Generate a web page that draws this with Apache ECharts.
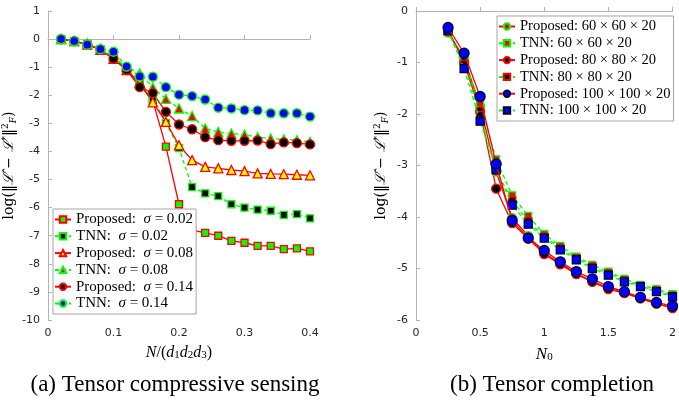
<!DOCTYPE html>
<html>
<head>
<meta charset="utf-8">
<script src="https://cdn.jsdelivr.net/npm/echarts@6/dist/echarts.min.js"></script>
<style>
  html, body { margin: 0; padding: 0; background: #fff; }
  #chart { width: 679px; height: 403px; }
</style>
</head>
<body>
<div id="chart"></div>
<script>
// (a) compressive sensing, x = N/(d1 d2 d3)
const ratioX = [0.02, 0.04, 0.06, 0.08, 0.10, 0.12, 0.14, 0.16, 0.18, 0.20,
  0.22, 0.24, 0.26, 0.28, 0.30, 0.32, 0.34, 0.36, 0.38, 0.40]
const prop002 = [0, -0.07, -0.18, -0.37, -0.68, -1.1, -1.62, -2.2, -3.83, -5.88,
  -6.8, -6.9, -7.0, -7.18, -7.25, -7.36, -7.36, -7.48, -7.45, -7.56]
const tnn002 = [0, -0.07, -0.17, -0.36, -0.65, -1.05, -1.5, -2.1, -2.98, -3.88,
  -5.27, -5.49, -5.59, -5.88, -6.0, -6.07, -6.11, -6.26, -6.23, -6.38]
const prop008 = [0, -0.07, -0.2, -0.38, -0.7, -1.1, -1.55, -2.25, -2.95, -3.78,
  -4.31, -4.55, -4.6, -4.66, -4.7, -4.78, -4.8, -4.81, -4.83, -4.85]
const tnn008 = [0, -0.07, -0.15, -0.33, -0.65, -1.0, -1.22, -1.72, -2.13, -2.47,
  -2.74, -3.18, -3.31, -3.36, -3.4, -3.49, -3.54, -3.57, -3.6, -3.66]
const prop014 = [0, -0.07, -0.2, -0.38, -0.7, -1.1, -1.71, -1.92, -2.59, -3.04,
  -3.21, -3.49, -3.6, -3.62, -3.62, -3.61, -3.74, -3.68, -3.7, -3.75]
const tnn014 = [0, -0.07, -0.2, -0.36, -0.45, -0.98, -1.33, -1.34, -1.71, -1.98,
  -2.03, -2.15, -2.44, -2.47, -2.53, -2.54, -2.64, -2.64, -2.64, -2.76]

// (b) completion, x = N0
const n0X = [0.25, 0.375, 0.5, 0.625, 0.75, 0.875, 1, 1.125, 1.25, 1.375, 1.5, 1.625, 1.75, 1.875, 2]
const prop60 = [-0.42, -0.92, -1.85, -3.12, -4.02, -4.37, -4.7, -4.9, -5.1, -5.25, -5.38, -5.47, -5.58, -5.68, -5.76]
const tnn60 = [-0.4, -0.95, -1.8, -2.88, -3.58, -3.98, -4.33, -4.56, -4.77, -4.93, -5.06, -5.2, -5.32, -5.4, -5.5]
const prop80 = [-0.36, -1.0, -1.95, -3.45, -4.12, -4.42, -4.72, -4.92, -5.11, -5.26, -5.4, -5.48, -5.58, -5.68, -5.77]
const tnn80 = [-0.4, -1.03, -2.02, -3.1, -3.68, -4.08, -4.38, -4.6, -4.8, -4.97, -5.1, -5.23, -5.34, -5.43, -5.53]
const prop100 = [-0.32, -0.82, -1.66, -2.97, -4.07, -4.41, -4.65, -4.87, -5.06, -5.2, -5.35, -5.45, -5.56, -5.66, -5.73]
const tnn100 = [-0.38, -1.12, -2.14, -3.08, -3.77, -4.14, -4.41, -4.64, -4.83, -5.0, -5.13, -5.26, -5.35, -5.45, -5.55]

const serif = 'Liberation Serif'
const sans = 'DejaVu Sans'

function pairs(xs, ys) {
  return xs.map((x, i) => [x, ys[i]])
}

function mkSeries(name, idx, xs, ys, opt) {
  return {
    name: name,
    type: 'line',
    xAxisIndex: idx,
    yAxisIndex: idx,
    data: pairs(xs, ys),
    symbol: opt.symbol,
    symbolSize: opt.size || 8,
    lineStyle: { color: opt.line, width: 1.3, type: opt.dashed ? [4, 3] : 'solid' },
    itemStyle: { color: opt.fill, borderColor: opt.edge, borderWidth: 1.3 },
    emphasis: { disabled: true },
    animation: false,
    z: opt.z || 2
  }
}

const R = '#ff0000'
const G = '#00ff00'

const series = [
  mkSeries('Proposed:  σ = 0.02', 0, ratioX, prop002, { symbol: 'rect', size: 7, fill: G, edge: R, line: R }),
  mkSeries('TNN:  σ = 0.02', 0, ratioX, tnn002, { symbol: 'rect', size: 7, fill: '#000', edge: G, line: G, dashed: true }),
  mkSeries('Proposed:  σ = 0.08', 0, ratioX, prop008, { symbol: 'triangle', size: 9, fill: '#ffff00', edge: R, line: R }),
  mkSeries('TNN:  σ = 0.08', 0, ratioX, tnn008, { symbol: 'triangle', size: 9, fill: R, edge: G, line: G, dashed: true }),
  mkSeries('Proposed:  σ = 0.14', 0, ratioX, prop014, { symbol: 'circle', size: 9, fill: '#000', edge: R, line: R }),
  mkSeries('TNN:  σ = 0.14', 0, ratioX, tnn014, { symbol: 'circle', size: 9, fill: '#0000ff', edge: G, line: G, dashed: true }),

  mkSeries('Proposed: 60 × 60 × 20', 1, n0X, prop60, { symbol: 'circle', size: 9, fill: R, edge: G, line: R }),
  mkSeries('TNN: 60 × 60 × 20', 1, n0X, tnn60, { symbol: 'rect', size: 7, fill: R, edge: G, line: G, dashed: true }),
  mkSeries('Proposed: 80 × 80 × 20', 1, n0X, prop80, { symbol: 'circle', size: 9, fill: '#000', edge: R, line: R }),
  mkSeries('TNN: 80 × 80 × 20', 1, n0X, tnn80, { symbol: 'rect', size: 7, fill: '#000', edge: R, line: G, dashed: true }),
  mkSeries('Proposed: 100 × 100 × 20', 1, n0X, prop100, { symbol: 'circle', size: 10, fill: '#0000ff', edge: '#000033', line: R, z: 4 }),
  mkSeries('TNN: 100 × 100 × 20', 1, n0X, tnn100, { symbol: 'rect', size: 8, fill: '#0000ff', edge: '#000033', line: G, dashed: true, z: 3 })
]

function legendText(size) {
  return {
    fontFamily: serif,
    fontSize: size,
    lineHeight: 15,
    color: '#000',
    rich: { i: { fontFamily: serif, fontStyle: 'italic', fontSize: size, color: '#000' } }
  }
}

function axisCommon() {
  return {
    axisLine: { show: true, lineStyle: { color: '#b3b3b3', width: 1 } },
    axisTick: { show: true, inside: true, length: 4, lineStyle: { color: '#b3b3b3' } },
    splitLine: { show: false },
    axisLabel: { fontFamily: sans, fontSize: 11, color: '#262626' }
  }
}

const mf = 'DejaVu Serif'
const yName = '{n|log(‖}{i|ℒ̂}{n| − }{i|ℒ}{s|*}{n|‖}{s|2}{b|F}{n|)}'
const yRich = {
  n: { fontFamily: mf, fontSize: 14, color: '#000' },
  i: { fontFamily: mf, fontStyle: 'italic', fontSize: 14, color: '#000' },
  s: { fontFamily: mf, fontSize: 9, color: '#000', padding: [0, 0, 8, 0] },
  b: { fontFamily: mf, fontStyle: 'italic', fontSize: 9, color: '#000', padding: [8, 0, 0, 0] }
}

const chart = echarts.init(document.getElementById('chart'), null, { renderer: 'canvas' })

chart.setOption({
  backgroundColor: '#fff',
  animation: false,
  title: [
    { text: '(a) Tensor compressive sensing', left: 170, top: 368, textAlign: 'center',
      textStyle: { fontFamily: serif, fontSize: 23, fontWeight: 'normal', color: '#000' } },
    { text: '(b) Tensor completion', left: 547, top: 368, textAlign: 'center',
      textStyle: { fontFamily: serif, fontSize: 23, fontWeight: 'normal', color: '#000' } }
  ],
  grid: [
    { left: 48, top: 11, width: 262, height: 309 },
    { left: 416, top: 11, width: 261, height: 309 }
  ],
  xAxis: [
    Object.assign(axisCommon(), {
      type: 'value', gridIndex: 0, min: 0, max: 0.4, interval: 0.1,
      name: '{i|N}{n|/(}{i|d}{s|1}{i|d}{s|2}{i|d}{s|3}{n|)}',
      nameLocation: 'middle', nameGap: 24,
      nameTextStyle: {
        rich: {
          n: { fontFamily: serif, fontSize: 16, color: '#000' },
          i: { fontFamily: serif, fontStyle: 'italic', fontSize: 16, color: '#000' },
          s: { fontFamily: serif, fontSize: 11, color: '#000', padding: [6, 0, 0, 0] }
        }
      }
    }),
    Object.assign(axisCommon(), {
      type: 'value', gridIndex: 1, min: 0, max: 2, interval: 0.5,
      name: '{i|N}{s|0}',
      nameLocation: 'middle', nameGap: 26,
      nameTextStyle: {
        rich: {
          i: { fontFamily: serif, fontStyle: 'italic', fontSize: 17, color: '#000' },
          s: { fontFamily: serif, fontSize: 11, color: '#000', padding: [6, 0, 0, 0] }
        }
      }
    })
  ],
  yAxis: [
    Object.assign(axisCommon(), {
      type: 'value', gridIndex: 0, min: -10, max: 1, interval: 1,
      name: yName, nameLocation: 'middle', nameGap: 28, nameRotate: 90,
      nameTextStyle: { rich: yRich }
    }),
    Object.assign(axisCommon(), {
      type: 'value', gridIndex: 1, min: -6, max: 0, interval: 1,
      name: yName, nameLocation: 'middle', nameGap: 26, nameRotate: 90,
      nameTextStyle: { rich: yRich }
    })
  ],
  legend: [
    {
      data: series.slice(0, 6).map(s => s.name),
      orient: 'vertical', left: 53, top: 209,
      itemWidth: 16, itemHeight: 8, itemGap: 1.8,
      padding: [3, 3, 3, 1],
      backgroundColor: '#fff', borderColor: '#a6a6a6', borderWidth: 1,
      textStyle: legendText(15),
      formatter: name => name.replace('σ', '{i|σ}'),
      selectedMode: false
    },
    {
      data: series.slice(6).map(s => s.name),
      orient: 'vertical', left: 497, top: 16,
      itemWidth: 16, itemHeight: 8, itemGap: 1.8,
      padding: [3, 3, 3, 1],
      backgroundColor: '#fff', borderColor: '#a6a6a6', borderWidth: 1,
      textStyle: legendText(14.5),
      selectedMode: false
    }
  ],
  series: series
})
</script>
</body>
</html>
